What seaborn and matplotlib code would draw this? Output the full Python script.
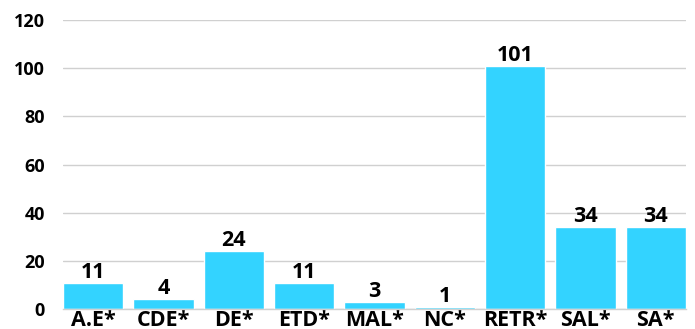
import matplotlib
matplotlib.use("Agg")
import matplotlib.pyplot as plt
import seaborn as sns
import pandas as pd

categories = ["A.E*", "CDE*", "DE*", "ETD*", "MAL*", "NC*", "RETR*", "SAL*", "SA*"]
counts = [11, 4, 24, 11, 3, 1, 101, 34, 34]
y_ticks = [0, 20, 40, 60, 80, 100, 120]

df = pd.DataFrame({"category": categories, "count": counts})

sns.set_theme(style="white")
plt.rcParams["font.family"] = ["Open Sans", "DejaVu Sans"]
plt.rcParams["font.weight"] = "bold"

fig = plt.figure(figsize=(6.95, 3.29), dpi=100)
ax = fig.add_axes([63 / 695, 1 - 309 / 329, 623 / 695, 289 / 329])

sns.barplot(data=df, x="category", y="count", color="#33D3FF", saturation=1,
            width=0.857, ax=ax)

ax.set_xlim(-0.43, 8.43)
ax.set_ylim(0, 120)
ax.set_yticks(y_ticks)
ax.set_yticklabels([str(t) for t in y_ticks], fontsize=13, fontweight="bold", color="black")
ax.tick_params(axis="y", length=0, pad=13)
ax.tick_params(axis="x", length=0, pad=1)
for lbl in ax.get_xticklabels():
    lbl.set_fontsize(15.5)
    lbl.set_fontweight("bold")
    lbl.set_color("black")

ax.yaxis.grid(True, color="#d0d0d0", linewidth=1)
ax.set_axisbelow(True)
for side in ["top", "right", "left"]:
    ax.spines[side].set_visible(False)
ax.spines["bottom"].set_color("#d0d0d0")
ax.spines["bottom"].set_linewidth(1)
ax.set_xlabel("")
ax.set_ylabel("")

for container in ax.containers:
    ax.bar_label(container, labels=[str(v) for v in counts], padding=0,
                 fontsize=15.5, fontweight="bold", color="black")

fig.savefig("out.png", dpi=100)
